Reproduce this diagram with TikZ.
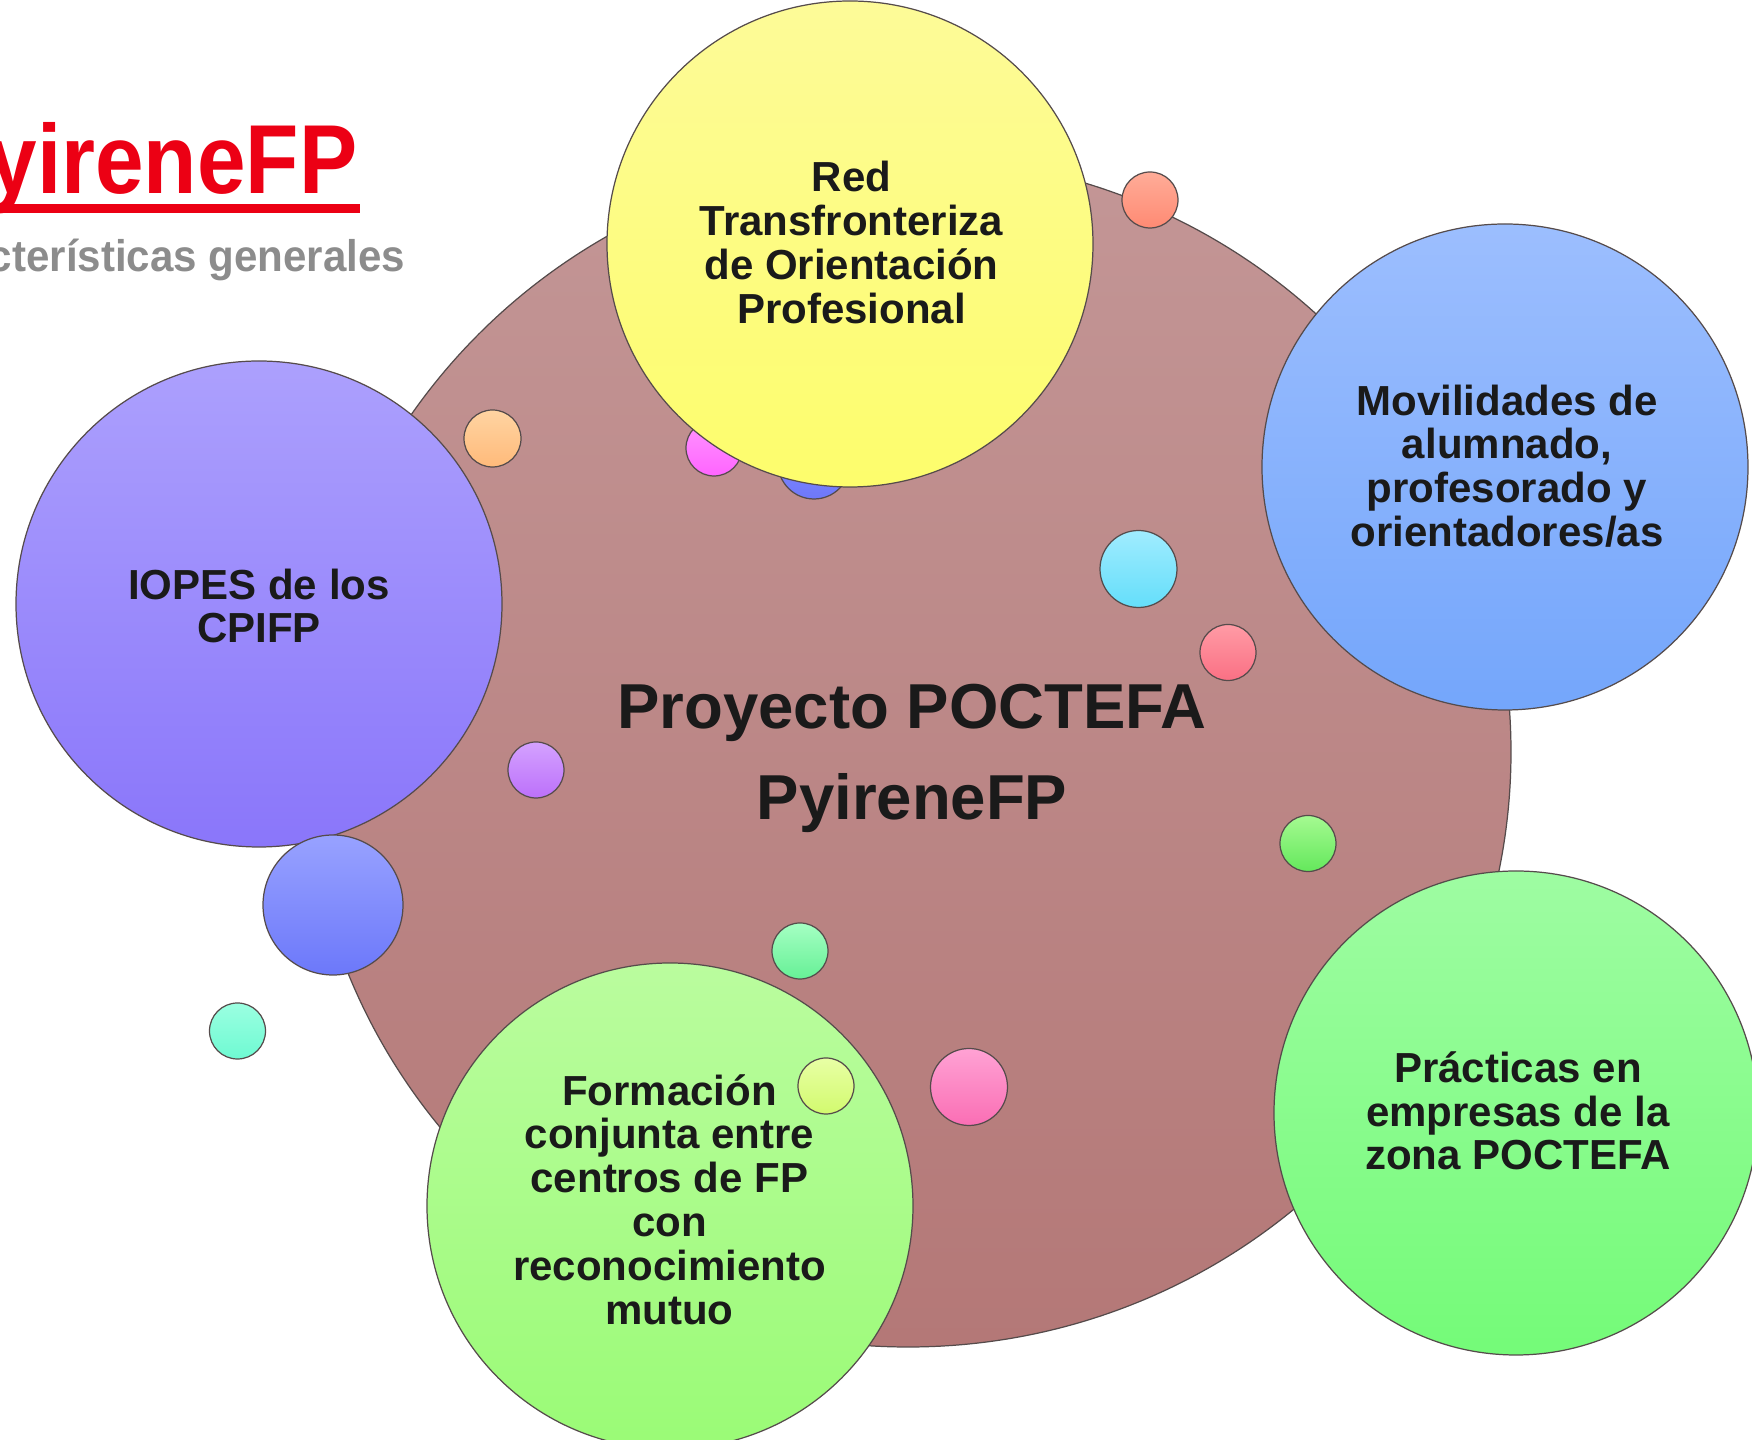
\documentclass[tikz,border=0pt]{standalone}
\usepackage{fontspec}
\setmainfont{Liberation Sans}
\newfontfamily\titlefont[FakeStretch=0.89]{Liberation Sans}
\newfontfamily\subfont[FakeStretch=0.95]{Liberation Sans}
\usetikzlibrary{shapes.geometric}
\definecolor{titlered}{RGB}{236,0,20}
\definecolor{subgray}{RGB}{140,140,140}
\definecolor{textdark}{RGB}{26,26,26}
\definecolor{edgegray}{RGB}{85,75,75}
\definecolor{baseT}{RGB}{195,150,150}
\definecolor{baseB}{RGB}{180,120,119}
\definecolor{yelT}{RGB}{253,251,152}
\definecolor{yelB}{RGB}{253,253,108}
\definecolor{bluT}{RGB}{156,190,254}
\definecolor{bluB}{RGB}{116,166,251}
\definecolor{purT}{RGB}{172,160,253}
\definecolor{purB}{RGB}{138,118,250}
\definecolor{fgrT}{RGB}{186,252,158}
\definecolor{fgrB}{RGB}{154,251,118}
\definecolor{pgrT}{RGB}{158,252,162}
\definecolor{pgrB}{RGB}{116,251,120}
\definecolor{magT}{RGB}{255,150,255}
\definecolor{magB}{RGB}{255,100,255}
\definecolor{bsmT}{RGB}{135,145,255}
\definecolor{bsmB}{RGB}{110,120,250}
\definecolor{salT}{RGB}{255,172,152}
\definecolor{salB}{RGB}{255,138,115}
\definecolor{oraT}{RGB}{255,212,162}
\definecolor{oraB}{RGB}{255,186,122}
\definecolor{cyaT}{RGB}{160,236,255}
\definecolor{cyaB}{RGB}{100,222,250}
\definecolor{rpkT}{RGB}{255,155,165}
\definecolor{rpkB}{RGB}{250,112,132}
\definecolor{psmT}{RGB}{212,162,255}
\definecolor{psmB}{RGB}{188,112,250}
\definecolor{gsmT}{RGB}{165,250,145}
\definecolor{gsmB}{RGB}{100,232,92}
\definecolor{bmdT}{RGB}{152,162,255}
\definecolor{bmdB}{RGB}{108,120,250}
\definecolor{tealT}{RGB}{155,255,225}
\definecolor{tealB}{RGB}{110,250,210}
\definecolor{mintT}{RGB}{165,255,195}
\definecolor{mintB}{RGB}{102,240,150}
\definecolor{ygrT}{RGB}{232,255,165}
\definecolor{ygrB}{RGB}{210,250,110}
\definecolor{pnkT}{RGB}{255,162,212}
\definecolor{pnkB}{RGB}{250,110,180}
\begin{document}
\begin{tikzpicture}[x=0.1mm, y=-0.1mm,
  bubble/.style={circle, draw=edgegray, line width=0.35pt, inner sep=0pt, minimum size=#1},
  ball/.style 2 args={top color=#1, bottom color=#2},
  txt/.style={align=center, inner sep=0pt, text=textdark,
              font=\bfseries\fontsize{11.95}{12.46}\selectfont}]
\useasboundingbox (0,0) rectangle (1752,1440);
\clip (0,0) rectangle (1752,1440);

% base disc
\node[ellipse, draw=edgegray, line width=0.35pt, inner sep=0pt,
      minimum width=120.6mm, minimum height=119mm, ball={baseT}{baseB}] (base) at (908,752) {};

% small circles behind the yellow circle
\node[bubble=5.6mm, ball={magT}{magB}] (magenta) at (714,448) {};
\node[bubble=7.2mm, ball={bsmT}{bsmB}] (bluesmall) at (814,463) {};

% main circles
\node[bubble=48.6mm, ball={yelT}{yelB}] (red) at (850,244) {};
\node[bubble=48.6mm, ball={bluT}{bluB}] (movil) at (1505,467) {};
\node[bubble=48.6mm, ball={purT}{purB}] (iopes) at (259,604) {};
\node[bubble=48.6mm, ball={fgrT}{fgrB}] (formacion) at (670,1206) {};
\node[bubble=48.4mm, ball={pgrT}{pgrB}] (practicas) at (1516,1113) {};

% other small circles
\node[bubble=5.6mm, ball={salT}{salB}] (salmon) at (1150,200) {};
\node[bubble=5.7mm, ball={oraT}{oraB}] (orange) at (492.5,438.5) {};
\node[bubble=7.7mm, ball={cyaT}{cyaB}] (cyan) at (1138.5,569) {};
\node[bubble=5.6mm, ball={rpkT}{rpkB}] (redpink) at (1228,652.5) {};
\node[bubble=5.6mm, ball={psmT}{psmB}] (purplesmall) at (536,770) {};
\node[bubble=5.6mm, ball={gsmT}{gsmB}] (greensmall) at (1308,843.5) {};
\node[bubble=14mm, ball={bmdT}{bmdB}] (bluemed) at (333,905) {};
\node[bubble=5.6mm, ball={tealT}{tealB}] (teal) at (237.5,1031) {};
\node[bubble=5.6mm, ball={mintT}{mintB}] (mint) at (800,951) {};
\node[bubble=5.6mm, ball={ygrT}{ygrB}] (yellowgreen) at (826,1086) {};
\node[bubble=7.7mm, ball={pnkT}{pnkB}] (pink) at (969,1087) {};

% texts
\node[txt] (redtxt) at (851.5,242.4) {Red\\Transfronteriza\\de Orientación\\Profesional};
\node[txt] (moviltxt) at (1507,466) {Movilidades de\\alumnado,\\profesorado y\\orientadores/as};
\node[txt] (iopestxt) at (259,606) {IOPES de los\\CPIFP};
\node[txt] (formaciontxt) at (669.5,1199.4) {Formación\\conjunta entre\\centros de FP\\con\\reconocimiento\\mutuo};
\node[txt] (practicastxt) at (1518,1111) {Prácticas en\\empresas de la\\zona POCTEFA};
\node[txt, font=\bfseries\fontsize{18.07}{25.9}\selectfont] (basetxt) at (912,758.4) {Proyecto POCTEFA\\PyireneFP};

% title
\node[anchor=base east, inner sep=0pt, text=titlered,
      font=\titlefont\bfseries\fontsize{27.9}{30}\selectfont] (title) at (358,193.3) {PyireneFP};
\fill[titlered] (-10,204) rectangle (360,213);
\node[anchor=base east, inner sep=0pt, text=subgray,
      font=\subfont\bfseries\fontsize{12.6}{14}\selectfont] (subtitle) at (406,271.7) {Características generales};
\end{tikzpicture}
\end{document}
